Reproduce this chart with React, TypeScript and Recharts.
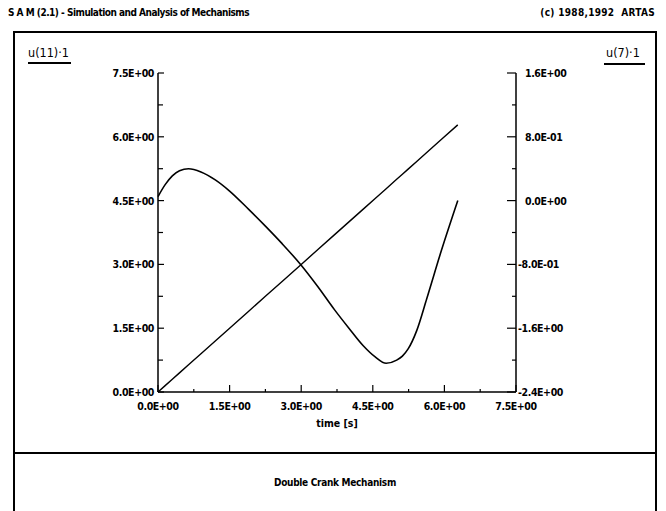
import React from 'react';
import { ComposedChart, Line, XAxis, YAxis } from 'recharts';

// time [s]
const time = [0, 0.15, 0.3, 0.45, 0.64, 0.9, 1.2, 1.5, 1.9, 2.25, 2.6, 3.0, 3.35, 3.7, 4.0, 4.3, 4.55, 4.78, 5.0, 5.12, 5.24, 5.42, 5.63, 5.94, 6.28];
// u(11) (left axis) - crank angle
const u11 = [0, 0.15, 0.3, 0.45, 0.64, 0.9, 1.2, 1.5, 1.9, 2.25, 2.6, 3.0, 3.35, 3.7, 4.0, 4.3, 4.55, 4.78, 5.0, 5.12, 5.24, 5.42, 5.63, 5.94, 6.28];
// u(7) (right axis)
const u7 = [0.05, 0.2, 0.31, 0.375, 0.4, 0.36, 0.26, 0.12, -0.11, -0.32, -0.54, -0.81, -1.08, -1.37, -1.6, -1.82, -1.96, -2.04, -2.0, -1.95, -1.86, -1.63, -1.23, -0.62, 0.0];

const xTicks = [0, 0.75, 1.5, 2.25, 3, 3.75, 4.5, 5.25, 6, 6.75, 7.5];
const xMajor = [0, 1.5, 3, 4.5, 6, 7.5];
const xTickLabels = ['0.0E+00', '1.5E+00', '3.0E+00', '4.5E+00', '6.0E+00', '7.5E+00'];

const lTicks = [0, 0.75, 1.5, 2.25, 3, 3.75, 4.5, 5.25, 6, 6.75, 7.5];
const lMajor = [0, 1.5, 3, 4.5, 6, 7.5];
const lTickLabels = ['0.0E+00', '1.5E+00', '3.0E+00', '4.5E+00', '6.0E+00', '7.5E+00'];

const rTicks = [-2.4, -2.0, -1.6, -1.2, -0.8, -0.4, 0, 0.4, 0.8, 1.2, 1.6];
const rMajor = [-2.4, -1.6, -0.8, 0, 0.8, 1.6];
const rTickLabels = ['-2.4E+00', '-1.6E+00', '-8.0E-01', '0.0E+00', '8.0E-01', '1.6E+00'];

const header = 'S A M (2.1) - Simulation and Analysis of Mechanisms';
const copyright = '(c) 1988,1992  ARTAS';
const leftTitle = 'u(11)·1';
const rightTitle = 'u(7)·1';
const xTitle = 'time [s]';
const caption = 'Double Crank Mechanism';

const data = time.map((t, i) => ({ t, u11: u11[i], u7: u7[i] }));

const FONT = "'DejaVu Sans', sans-serif";
const STRETCH = 'condensed';
const INK = '#000';
const M = 4;

const idx = (arr: number[], v: number) => arr.findIndex((a) => Math.abs(a - v) < 1e-6);

const labelStyle: React.CSSProperties = { fontStretch: STRETCH, fontFamily: FONT, letterSpacing: -0.4, fontWeight: 'bold' };

const BottomTick = (props: any) => {
  const { x, y, payload } = props;
  const v = payload.value;
  const axisY = y - M;
  const k = idx(xMajor, v);
  const len = k >= 0 ? 7 : 3;
  return (
    <g>
      <line x1={x} x2={x} y1={axisY} y2={axisY - len} stroke={INK} strokeWidth={1.2} />
      {k >= 0 && (
        <text x={x} y={axisY + 18} textAnchor="middle" style={labelStyle} fontSize={10.5} fill={INK}>
          {xTickLabels[k]}
        </text>
      )}
    </g>
  );
};

const TopTick = (props: any) => {
  const { x, y, payload } = props;
  const v = payload.value;
  const axisY = y + M;
  const k = idx(xMajor, v);
  const len = k >= 0 ? 5 : 3;
  return <line x1={x} x2={x} y1={axisY} y2={axisY + len} stroke={INK} strokeWidth={1.2} />;
};

const LeftTick = (props: any) => {
  const { x, y, payload } = props;
  const v = payload.value;
  const axisX = x + M;
  const k = idx(lMajor, v);
  const len = k >= 0 ? 6 : 5;
  return (
    <g>
      <line x1={axisX} x2={axisX + len} y1={y} y2={y} stroke={INK} strokeWidth={1.2} />
      {k >= 0 && (
        <text x={axisX - 4} y={y + 4} textAnchor="end" style={labelStyle} fontSize={10.5} fill={INK}>
          {lTickLabels[k]}
        </text>
      )}
    </g>
  );
};

const RightTick = (props: any) => {
  const { x, y, payload } = props;
  const v = payload.value;
  const axisX = x - M;
  const k = idx(rMajor, v);
  const len = k >= 0 ? 9 : 4;
  return (
    <g>
      <line x1={axisX} x2={axisX - len} y1={y} y2={y} stroke={INK} strokeWidth={1.2} />
      {k >= 0 && (
        <text x={v < 0 ? axisX + 2 : axisX + 9} y={y + 4} textAnchor="start" style={labelStyle} fontSize={10.5} fill={INK}>
          {rTickLabels[k]}
        </text>
      )}
    </g>
  );
};

const textStyle: React.CSSProperties = {
  position: 'absolute',
  fontFamily: FONT,
  fontStretch: STRETCH,
  fontWeight: 'bold',
  color: INK,
  whiteSpace: 'pre',
  lineHeight: 1,
};

export default function App() {
  return (
    <div style={{ position: 'absolute', left: 0, top: 0, width: 666, height: 511, background: '#fff', overflow: 'hidden' }}>
      <div style={{ ...textStyle, left: 8, top: 8, fontSize: 10, letterSpacing: -0.5 }}>{header}</div>
      <div style={{ ...textStyle, right: 11, top: 8, fontSize: 10, letterSpacing: 0.3 }}>{copyright}</div>
      {/* outer frame */}
      <div style={{ position: 'absolute', left: 13, top: 31, width: 644, height: 500, border: `2px solid ${INK}`, boxSizing: 'border-box' }} />
      <div style={{ position: 'absolute', left: 13, top: 452, width: 644, height: 2, background: INK }} />
      <div style={{ ...textStyle, left: 28, top: 47, fontSize: 12.5, fontWeight: 'normal' }}>{leftTitle}</div>
      <div style={{ position: 'absolute', left: 28, top: 62, width: 43, height: 1.5, background: INK }} />
      <div style={{ ...textStyle, left: 606, top: 47, fontSize: 12.5, fontWeight: 'normal' }}>{rightTitle}</div>
      <div style={{ position: 'absolute', left: 604, top: 63, width: 41, height: 1.5, background: INK }} />
      <div style={{ ...textStyle, left: 0, width: 670, textAlign: 'center', top: 478, fontSize: 10, letterSpacing: -0.3 }}>{caption}</div>
      <div style={{ position: 'absolute', left: 0, top: 0 }}>
        <ComposedChart width={666} height={511} data={data} margin={{ top: 73, right: 90, bottom: 79, left: 98 }}>
          <XAxis
            xAxisId="b"
            type="number"
            dataKey="t"
            domain={[0, 7.5]}
            ticks={xTicks}
            interval={0}
            height={40}
            tickSize={0}
            tickMargin={M}
            tickLine={false}
            axisLine={{ stroke: INK, strokeWidth: 1.5 }}
            tick={<BottomTick />}
            label={{ value: xTitle, position: 'insideBottom', offset: 5, fill: INK, fontFamily: FONT, fontSize: 10.5, fontWeight: 'bold', style: { fontStretch: STRETCH } }}
          />
          <XAxis
            xAxisId="top"
            orientation="top"
            type="number"
            domain={[0, 7.5]}
            ticks={xTicks}
            interval={0}
            height={0}
            tickSize={0}
            tickMargin={M}
            tickLine={false}
            axisLine={{ stroke: INK, strokeWidth: 1.5 }}
            tick={<TopTick />}
          />
          <YAxis
            yAxisId="l"
            type="number"
            domain={[0, 7.5]}
            ticks={lTicks}
            interval={0}
            width={60}
            tickSize={0}
            tickMargin={M}
            tickLine={false}
            axisLine={{ stroke: INK, strokeWidth: 1.5 }}
            tick={<LeftTick />}
          />
          <YAxis
            yAxisId="r"
            orientation="right"
            type="number"
            domain={[-2.4, 1.6]}
            ticks={rTicks}
            interval={0}
            width={60}
            tickSize={0}
            tickMargin={M}
            tickLine={false}
            axisLine={{ stroke: INK, strokeWidth: 1.5 }}
            tick={<RightTick />}
          />
          <Line xAxisId="b" yAxisId="l" type="linear" dataKey="u11" stroke={INK} strokeWidth={1.4} dot={false} isAnimationActive={false} />
          <Line xAxisId="b" yAxisId="r" type="monotone" dataKey="u7" stroke={INK} strokeWidth={1.6} dot={false} isAnimationActive={false} />
        </ComposedChart>
      </div>
    </div>
  );
}
